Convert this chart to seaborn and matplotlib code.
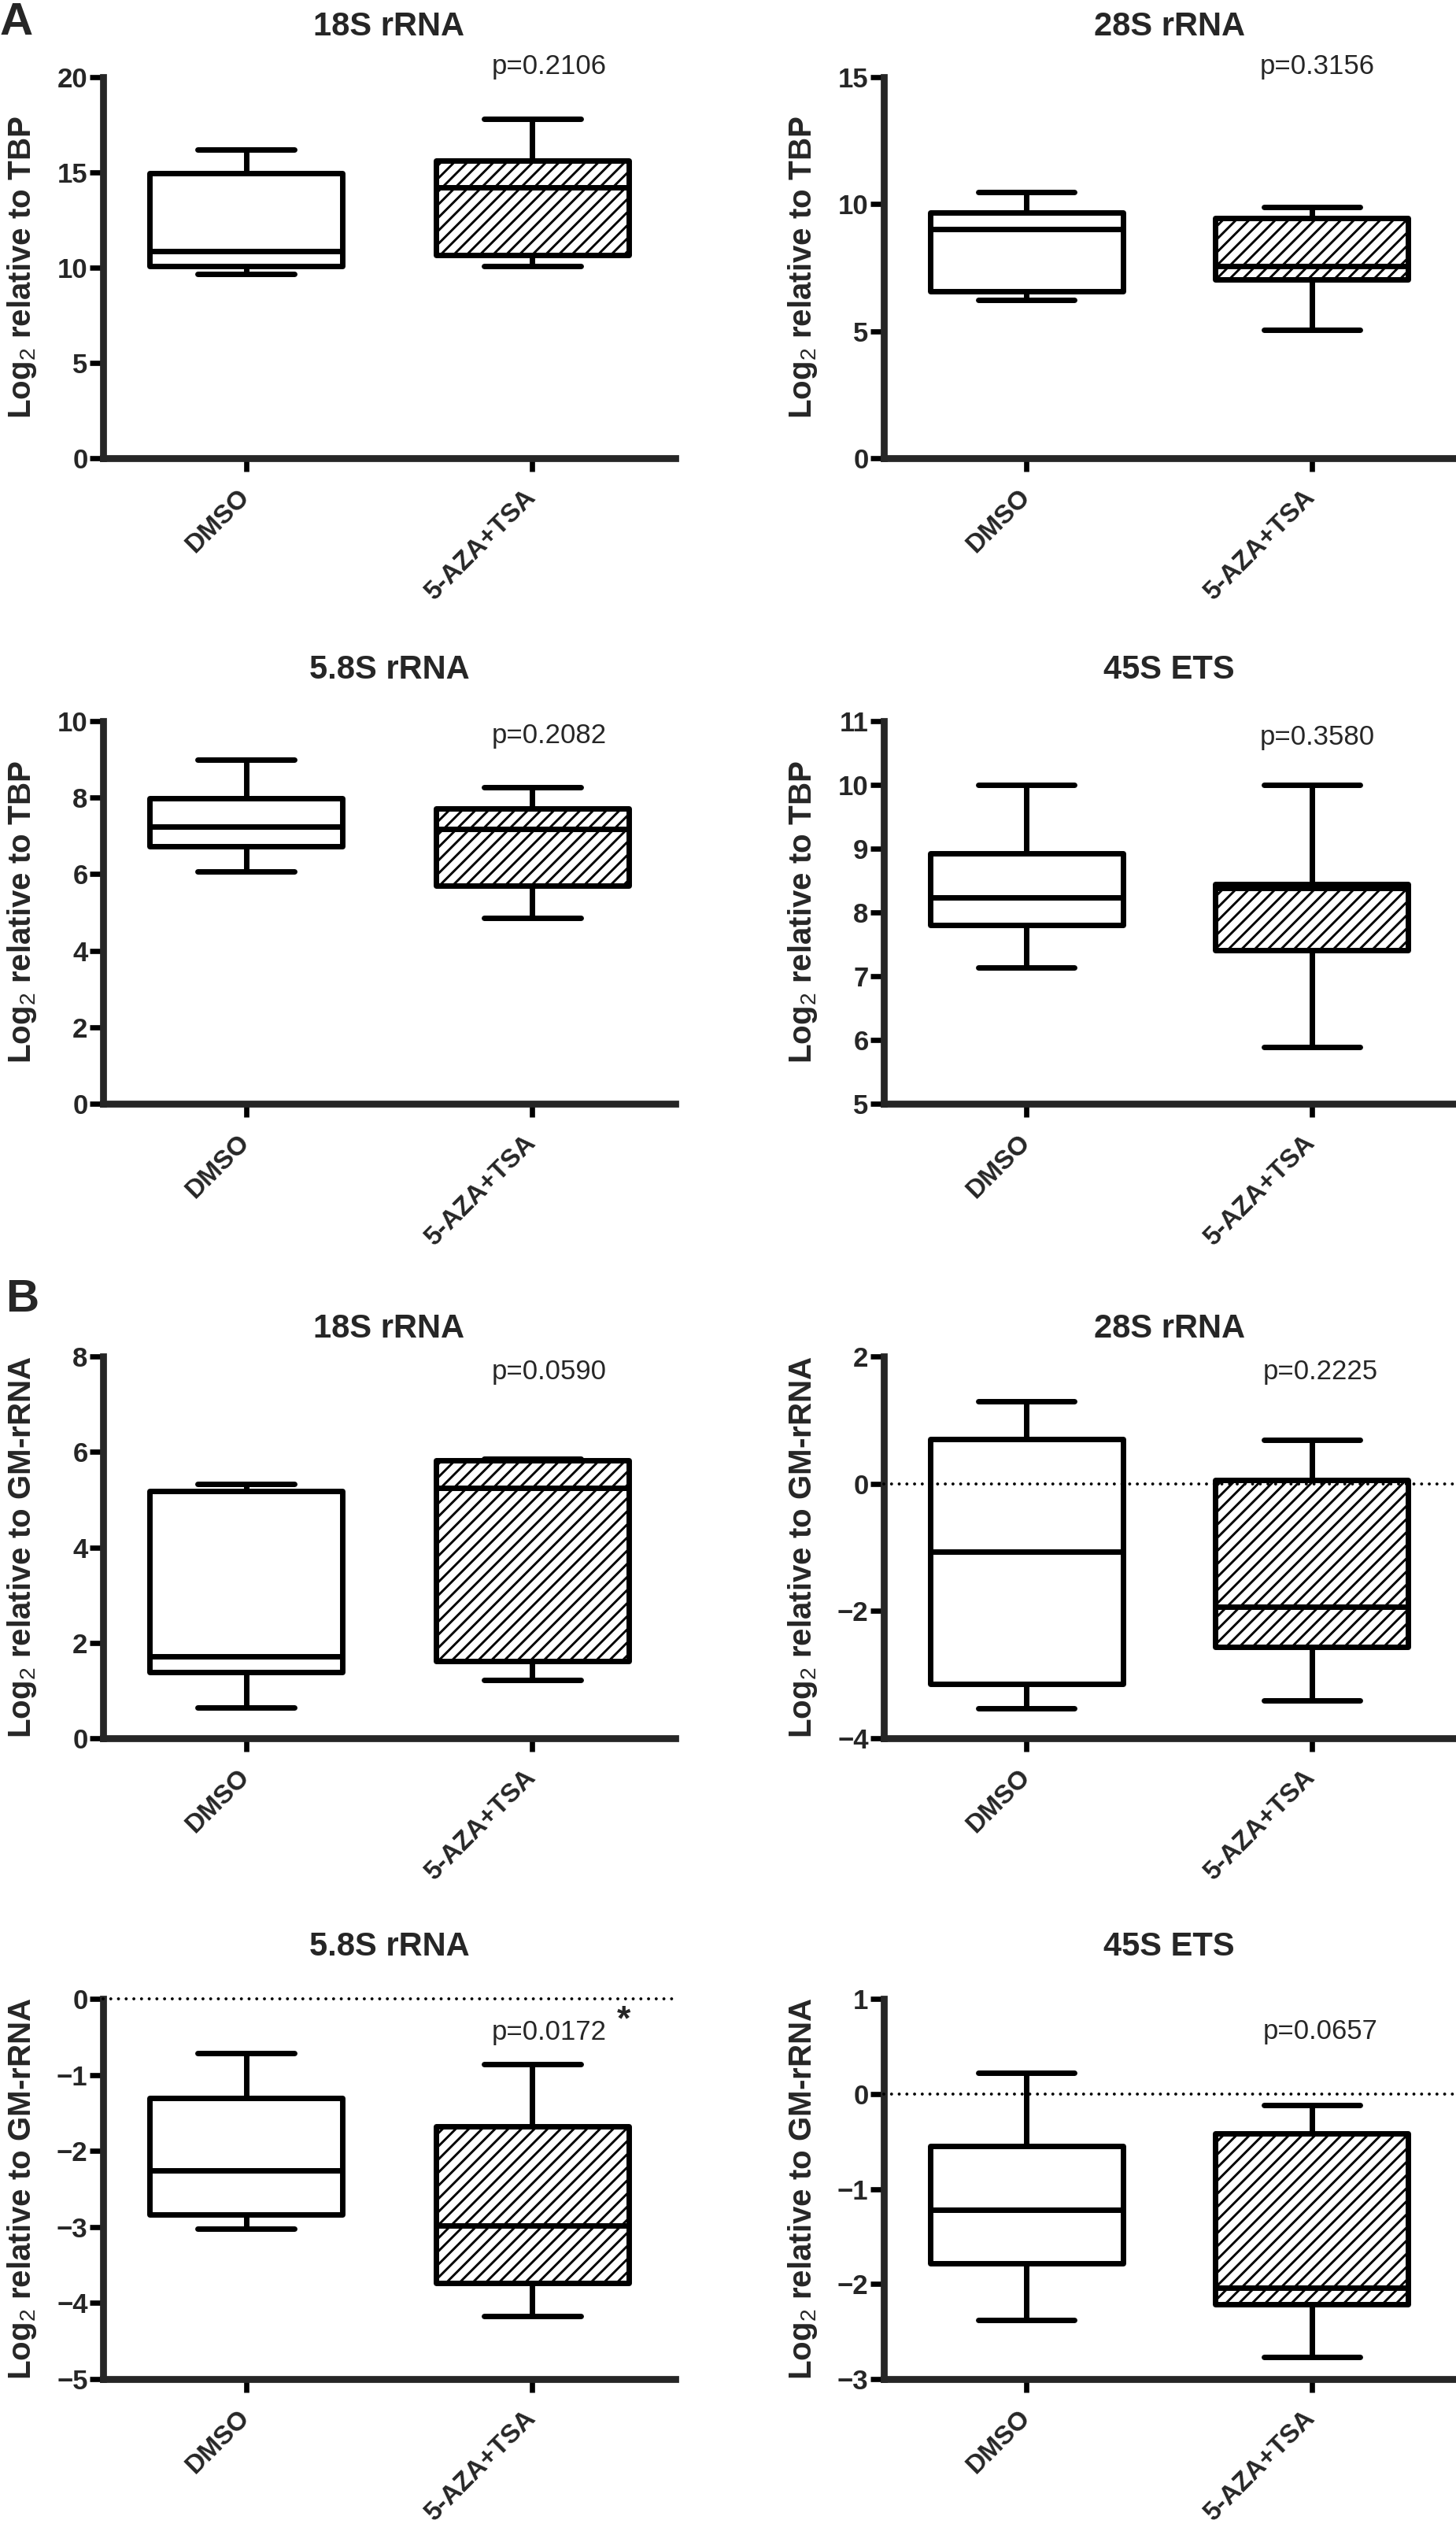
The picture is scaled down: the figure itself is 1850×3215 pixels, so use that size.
import numpy as np
import pandas as pd
import matplotlib
matplotlib.use('agg')
import matplotlib.pyplot as plt
import seaborn as sns

groups = ["DMSO", "5-AZA+TSA"]

# five numbers per box: min, q1, median, q3, max
tbp_18s_dmso = [9.68, 10.10, 10.88, 14.95, 16.19]
tbp_18s_aza = [10.10, 10.67, 14.21, 15.62, 17.83]
tbp_28s_dmso = [6.22, 6.56, 9.02, 9.67, 10.46]
tbp_28s_aza = [5.05, 7.03, 7.57, 9.44, 9.90]
tbp_58s_dmso = [6.07, 6.72, 7.25, 7.98, 8.99]
tbp_58s_aza = [4.85, 5.69, 7.18, 7.71, 8.27]
tbp_45s_dmso = [7.13, 7.80, 8.24, 8.93, 10.00]
tbp_45s_aza = [5.89, 7.41, 8.38, 8.45, 10.00]
gm_18s_dmso = [0.65, 1.38, 1.72, 5.18, 5.33]
gm_18s_aza = [1.22, 1.61, 5.25, 5.82, 5.86]
gm_28s_dmso = [-3.53, -3.15, -1.07, 0.70, 1.30]
gm_28s_aza = [-3.41, -2.57, -1.93, 0.06, 0.69]
gm_58s_dmso = [-3.02, -2.84, -2.26, -1.30, -0.71]
gm_58s_aza = [-4.17, -3.74, -2.98, -1.68, -0.86]
gm_45s_dmso = [-2.38, -1.78, -1.22, -0.55, 0.22]
gm_45s_aza = [-2.77, -2.21, -2.04, -0.42, -0.12]

titles = ["18S rRNA", "28S rRNA", "5.8S rRNA", "45S ETS",
          "18S rRNA", "28S rRNA", "5.8S rRNA", "45S ETS"]
pvalues = ["p=0.2106", "p=0.3156", "p=0.2082", "p=0.3580",
           "p=0.0590", "p=0.2225", "p=0.0172", "p=0.0657"]
yticks = [[0, 5, 10, 15, 20], [0, 5, 10, 15], [0, 2, 4, 6, 8, 10], [5, 6, 7, 8, 9, 10, 11],
          [0, 2, 4, 6, 8], [-4, -2, 0, 2], [-5, -4, -3, -2, -1, 0], [-3, -2, -1, 0, 1]]
ylabels = ["TBP"] * 4 + ["GM-rRNA"] * 4
dotted_zero = [False, False, False, False, False, True, True, True]
star = [False, False, False, False, False, False, True, False]

panels = [(tbp_18s_dmso, tbp_18s_aza), (tbp_28s_dmso, tbp_28s_aza),
          (tbp_58s_dmso, tbp_58s_aza), (tbp_45s_dmso, tbp_45s_aza),
          (gm_18s_dmso, gm_18s_aza), (gm_28s_dmso, gm_28s_aza),
          (gm_58s_dmso, gm_58s_aza), (gm_45s_dmso, gm_45s_aza)]

sns.set_style("ticks")
plt.rcParams['font.family'] = ['Liberation Sans', 'DejaVu Sans']
plt.rcParams['mathtext.fontset'] = 'custom'
plt.rcParams['mathtext.rm'] = 'Liberation Sans'
plt.rcParams['mathtext.it'] = 'Liberation Sans:italic'
plt.rcParams['mathtext.bf'] = 'Liberation Sans:bold'
plt.rcParams['hatch.linewidth'] = 2.1
plt.rcParams['hatch.color'] = 'black'

W, H = 1850, 3215
fig = plt.figure(figsize=(W / 100, H / 100), dpi=100)

cols = [(131, 858), (1123, 1848)]
rows = [(98, 582), (916, 1402), (1723, 2208), (2539, 3022)]
title_y = [1.132, 1.134, 1.072, 1.137]
p_pos = [(1.06, 1.027), (1.02, 1.027), (1.06, 0.961), (1.02, 0.957),
         (1.06, 0.959), (1.03, 0.959), (1.058, 0.912), (1.03, 0.915)]

box_lw = 5.0
axis_lw = 6.3

for i, (dmso, aza) in enumerate(panels):
    r, c = divmod(i, 2)
    left, right = cols[c]
    top, bottom = rows[r]
    ax = fig.add_axes([left / W, 1 - bottom / H, (right - left) / W, (bottom - top) / H])

    df = pd.DataFrame({
        "group": [groups[0]] * len(dmso) + [groups[1]] * len(aza),
        "value": dmso + aza,
    })
    sns.boxplot(data=df, x="group", y="value", order=groups, whis=(0, 100),
                width=0.675, color="white", linecolor="black", linewidth=box_lw,
                showfliers=False, saturation=1, ax=ax)
    ax.patches[1].set_hatch("//")
    for p in ax.patches:
        p.set_joinstyle("round")

    if dotted_zero[i]:
        ax.axhline(0, color="black", lw=2.8, dashes=(0.01, 2.5), dash_capstyle="round",
                   zorder=6, clip_on=False)

    ax.set_xlim(-0.5, 1.5)
    ax.set_ylim(yticks[i][0], yticks[i][-1])
    ax.set_yticks(yticks[i])
    ax.set_xlabel("")
    sns.despine(ax=ax)
    for s in ["left", "bottom"]:
        ax.spines[s].set_linewidth(axis_lw)
        ax.spines[s].set_capstyle("projecting")
    ax.tick_params(axis="both", width=4.8, length=12, color="black")
    ax.tick_params(axis="y", labelsize=25, pad=2)
    ax.tick_params(axis="x", labelsize=24, pad=20)
    plt.setp(ax.get_yticklabels(), fontweight="bold")
    plt.setp(ax.get_xticklabels(), fontweight="bold", rotation=45, ha="right",
             va="center", rotation_mode="anchor")

    ax.set_ylabel("Log$_2$ relative to " + ylabels[i], fontsize=29, fontweight="bold")
    ax.yaxis.set_label_coords(-103 / (right - left), 0.5)
    ax.yaxis.label.set_va("center")

    ax.set_title(titles[i], fontsize=30, fontweight="bold", y=title_y[r], va="center", pad=0)

    px, py = p_pos[i]
    ax.text(px, py, pvalues[i], transform=ax.get_xaxis_transform(), ha="center",
            va="center", fontsize=25)
    if star[i]:
        ax.text(1.32, 0.942, "*", transform=ax.get_xaxis_transform(), ha="center",
                va="center", fontsize=32, fontweight="bold")

fig.text(0.0, 1 - 29 / H, "A", ha="left", va="center", fontsize=42, fontweight="bold")
fig.text(0.004, 1 - 1651 / H, "B", ha="left", va="center", fontsize=42, fontweight="bold")

fig.savefig("out.png", dpi=100, facecolor="white")
